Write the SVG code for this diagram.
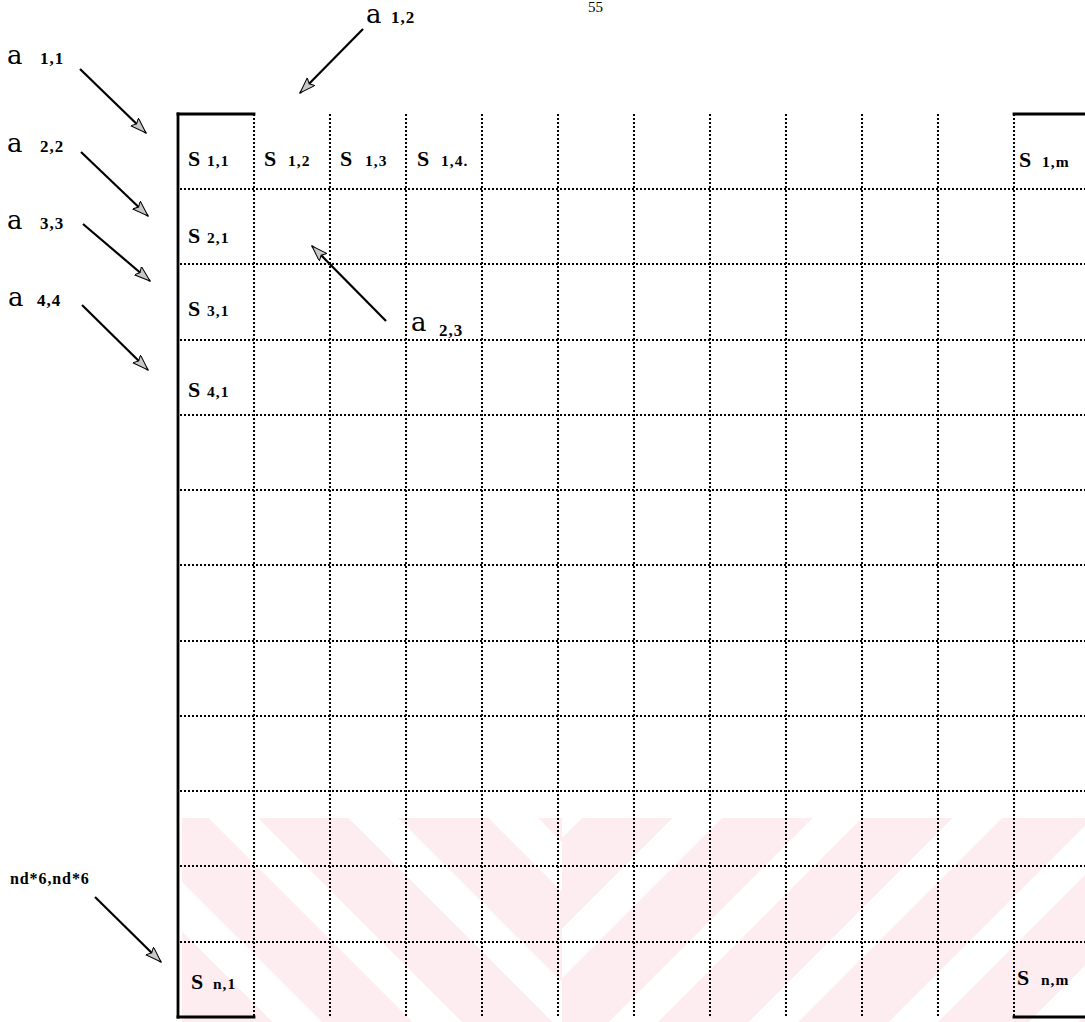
<svg xmlns="http://www.w3.org/2000/svg" width="1085" height="1022" viewBox="0 0 1085 1022">
<style>
.dot{stroke:#000;stroke-width:2;stroke-dasharray:2 2;fill:none}
.thick{stroke:#000;stroke-width:2.8;fill:none;stroke-linecap:square}
.arr{stroke:#000;stroke-width:2.2;fill:none;marker-end:url(#ah)}
.a{font-family:"DejaVu Serif","Liberation Serif",serif;font-size:26px;fill:#000}
.asub{font-family:"Liberation Serif",serif;font-weight:bold;font-size:17px;fill:#000;letter-spacing:1px}
.s{font-family:"Liberation Serif",serif;font-weight:bold;font-size:22px;fill:#000}
.ssub{font-family:"Liberation Serif",serif;font-weight:bold;font-size:15.5px;fill:#000;letter-spacing:1px}
.nd{font-family:"Liberation Serif",serif;font-weight:bold;font-size:16px;fill:#000;letter-spacing:0.9px}
</style>
<defs>
<marker id="ah" markerUnits="userSpaceOnUse" markerWidth="17" markerHeight="12" refX="16" refY="5.5" orient="auto">
<path d="M0,0 L16,5.5 L0,11 L3,5.5 z" fill="#c8c8c8" stroke="#000" stroke-width="1"/>
</marker>
<pattern id="pr" width="99" height="200" patternUnits="userSpaceOnUse" patternTransform="rotate(45)">
<rect x="0" y="0" width="64" height="200" fill="#fdedf0"/>
</pattern>
<pattern id="pl" width="99" height="200" patternUnits="userSpaceOnUse" patternTransform="rotate(-45)">
<rect x="0" y="0" width="64" height="200" fill="#fdedf0"/>
</pattern>
</defs>
<rect x="0" y="0" width="1085" height="1022" fill="#fff"/>
<g id="watermark">
<rect x="182" y="818" width="380" height="204" fill="url(#pl)"/>
<rect x="562" y="818" width="523" height="204" fill="url(#pr)"/>
</g>
<text id="page-number" x="588" y="12" style="font-family:'Liberation Serif',serif;font-size:15px;fill:#000">55</text>
<g id="grid">
<g id="frame">
<line class="thick" x1="178" y1="114" x2="178" y2="1017"/>
<line class="thick" x1="178" y1="114" x2="254" y2="114"/>
<line class="thick" x1="178" y1="1017" x2="254" y2="1017"/>
<line class="thick" x1="1014" y1="114" x2="1085" y2="114"/>
<line class="thick" x1="1014" y1="1017" x2="1085" y2="1017"/>
</g>
<g id="rows">
<line class="dot" x1="180" y1="189" x2="1085" y2="189"/>
<line class="dot" x1="180" y1="264" x2="1085" y2="264"/>
<line class="dot" x1="180" y1="340" x2="1085" y2="340"/>
<line class="dot" x1="180" y1="415" x2="1085" y2="415"/>
<line class="dot" x1="180" y1="490" x2="1085" y2="490"/>
<line class="dot" x1="180" y1="565" x2="1085" y2="565"/>
<line class="dot" x1="180" y1="641" x2="1085" y2="641"/>
<line class="dot" x1="180" y1="716" x2="1085" y2="716"/>
<line class="dot" x1="180" y1="791" x2="1085" y2="791"/>
<line class="dot" x1="180" y1="866" x2="1085" y2="866"/>
<line class="dot" x1="180" y1="942" x2="1085" y2="942"/>
</g>
<g id="cols">
<line class="dot" x1="254" y1="114" x2="254" y2="1017"/>
<line class="dot" x1="330" y1="114" x2="330" y2="1017"/>
<line class="dot" x1="406" y1="114" x2="406" y2="1017"/>
<line class="dot" x1="482" y1="114" x2="482" y2="1017"/>
<line class="dot" x1="558" y1="114" x2="558" y2="1017"/>
<line class="dot" x1="634" y1="114" x2="634" y2="1017"/>
<line class="dot" x1="710" y1="114" x2="710" y2="1017"/>
<line class="dot" x1="786" y1="114" x2="786" y2="1017"/>
<line class="dot" x1="862" y1="114" x2="862" y2="1017"/>
<line class="dot" x1="938" y1="114" x2="938" y2="1017"/>
<line class="dot" x1="1014" y1="114" x2="1014" y2="1017"/>
</g>
</g>
<g id="cells">
<g id="s11"><text class="s" x="188" y="166">S<tspan class="ssub" x="207">1,1</tspan></text></g>
<g id="s12"><text class="s" x="264" y="166">S<tspan class="ssub" x="288">1,2</tspan></text></g>
<g id="s13"><text class="s" x="340" y="166">S<tspan class="ssub" x="365">1,3</tspan></text></g>
<g id="s14"><text class="s" x="417" y="166">S<tspan class="ssub" x="441">1,4.</tspan></text></g>
<g id="s1m"><text class="s" x="1019" y="167">S<tspan class="ssub" x="1042">1,m</tspan></text></g>
<g id="s21"><text class="s" x="188" y="243">S<tspan class="ssub" x="207">2,1</tspan></text></g>
<g id="s31"><text class="s" x="188" y="316">S<tspan class="ssub" x="207">3,1</tspan></text></g>
<g id="s41"><text class="s" x="188" y="397">S<tspan class="ssub" x="207">4,1</tspan></text></g>
<g id="sn1"><text class="s" x="191" y="989">S<tspan class="ssub" x="213">n,1</tspan></text></g>
<g id="snm"><text class="s" x="1017" y="985">S<tspan class="ssub" x="1041">n,m</tspan></text></g>
</g>
<g id="labels">
<g id="a11"><text class="a" x="7" y="64">a<tspan class="asub" x="40">1,1</tspan></text></g>
<g id="a22"><text class="a" x="7" y="152">a<tspan class="asub" x="40">2,2</tspan></text></g>
<g id="a33"><text class="a" x="7" y="229">a<tspan class="asub" x="40">3,3</tspan></text></g>
<g id="a44"><text class="a" x="8" y="306">a<tspan class="asub" x="37">4,4</tspan></text></g>
<g id="a12"><text class="a" x="366" y="23">a<tspan class="asub" x="391">1,2</tspan></text></g>
<g id="a23"><text class="a" x="411" y="331">a<tspan class="asub" x="439" y="336">2,3</tspan></text></g>
<g id="nd"><text class="nd" x="10" y="884">nd*6,nd*6</text></g>
</g>
<g id="connectors">
<line class="arr" x1="80" y1="69" x2="146" y2="133"/>
<line class="arr" x1="81" y1="152" x2="148" y2="216"/>
<line class="arr" x1="83" y1="224" x2="150" y2="281"/>
<line class="arr" x1="82" y1="305" x2="148" y2="370"/>
<line class="arr" x1="363" y1="29" x2="300" y2="93"/>
<line class="arr" x1="386" y1="321" x2="312" y2="246"/>
<line class="arr" x1="95" y1="897" x2="161" y2="962"/>
</g>
</svg>
